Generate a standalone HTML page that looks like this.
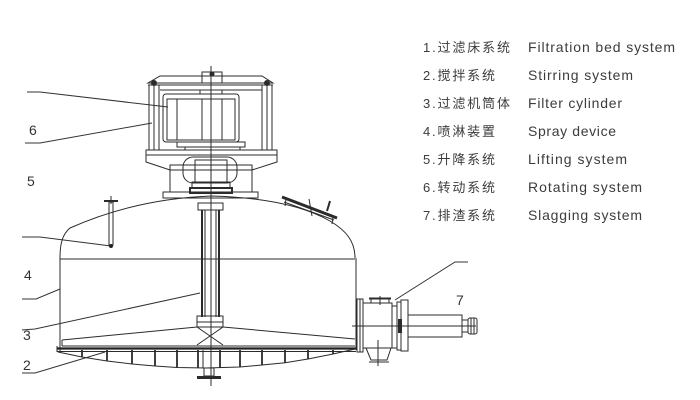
<!DOCTYPE html>
<html><head><meta charset="utf-8"><style>
html,body{margin:0;padding:0;background:#fff;}
svg{display:block;}
.l{fill:none;stroke:#2b2b2b;stroke-width:1;}
.t{stroke:#2b2b2b;stroke-width:2;fill:none;}
.lead{fill:none;stroke:#333;stroke-width:1;}
.num{font-family:"Liberation Sans",sans-serif;font-size:14px;fill:#333;}
.cn{font-family:"Liberation Sans","Noto Sans CJK SC",sans-serif;font-size:13px;fill:#3c3c3c;}
.en{font-family:"Liberation Sans",sans-serif;font-size:14px;fill:#3c3c3c;}
</style></head><body>
<svg width="700" height="400" viewBox="0 0 700 400" xmlns="http://www.w3.org/2000/svg">
<!-- legend -->
<text class="cn" x="423" y="52" textLength="87" lengthAdjust="spacing">1.过滤床系统</text>
<text class="cn" x="423" y="80" textLength="72" lengthAdjust="spacing">2.搅拌系统</text>
<text class="cn" x="423" y="108" textLength="87" lengthAdjust="spacing">3.过滤机筒体</text>
<text class="cn" x="423" y="136" textLength="72" lengthAdjust="spacing">4.喷淋装置</text>
<text class="cn" x="423" y="164" textLength="72" lengthAdjust="spacing">5.升降系统</text>
<text class="cn" x="423" y="192" textLength="72" lengthAdjust="spacing">6.转动系统</text>
<text class="cn" x="423" y="220" textLength="72" lengthAdjust="spacing">7.排渣系统</text>
<text class="en" x="528" y="52" textLength="147" lengthAdjust="spacing">Filtration bed system</text>
<text class="en" x="528" y="80" textLength="105" lengthAdjust="spacing">Stirring system</text>
<text class="en" x="528" y="108" textLength="94" lengthAdjust="spacing">Filter cylinder</text>
<text class="en" x="528" y="136" textLength="88" lengthAdjust="spacing">Spray device</text>
<text class="en" x="528" y="164" textLength="99" lengthAdjust="spacing">Lifting system</text>
<text class="en" x="528" y="192" textLength="114" lengthAdjust="spacing">Rotating system</text>
<text class="en" x="528" y="220" textLength="114" lengthAdjust="spacing">Slagging system</text>

<!-- left numbers -->
<text class="num" x="29" y="135">6</text>
<text class="num" x="27" y="186">5</text>
<text class="num" x="24" y="280">4</text>
<text class="num" x="23" y="340">3</text>
<text class="num" x="23" y="370">2</text>
<text class="num" x="456" y="305">7</text>

<!-- leaders -->
<polyline class="lead" points="27,92 40,92 168,107"/>
<polyline class="lead" points="25,143 40,143 152,123"/>
<polyline class="lead" points="22,237 40,237 111,246"/>
<polyline class="lead" points="22,299 36,299 60,289"/>
<polyline class="lead" points="22,330 35,329 200,293"/>
<polyline class="lead" points="22,373 35,373 105,352"/>
<polyline class="lead" points="468,262 455,262 395,300"/>

<!-- top drive -->
<polygon class="l" points="160,76 202,76 222,76 262,76 273,83 148,83"/>
<rect class="l" x="202" y="72" width="20" height="11"/>
<line class="l" x1="148" y1="85" x2="273" y2="85"/>
<line class="l" x1="160" y1="90" x2="262" y2="90"/>
<!-- posts -->
<rect class="l" x="149" y="85" width="10" height="65"/>
<line class="l" x1="154" y1="85" x2="154" y2="150"/>
<rect class="l" x="262" y="85" width="10" height="65"/>
<line class="l" x1="267" y1="85" x2="267" y2="150"/>
<circle cx="154" cy="83" r="3" fill="#2b2b2b"/>
<circle cx="267" cy="83" r="3" fill="#2b2b2b"/>
<circle cx="212" cy="74" r="2.5" fill="#2b2b2b"/>
<!-- motor -->
<rect class="l" x="163" y="94" width="76" height="48" rx="3"/>
<rect class="l" x="167" y="99" width="68" height="41"/>
<line class="l" x1="177" y1="99" x2="177" y2="140"/>
<line class="l" x1="202" y1="99" x2="202" y2="140"/>
<line class="l" x1="222" y1="99" x2="222" y2="140"/>
<rect class="l" x="200" y="90" width="22" height="4"/>
<rect class="l" x="177" y="142" width="68" height="5"/>
<rect class="l" x="185" y="147" width="55" height="3"/>
<!-- base -->
<polygon class="l" points="146,150 277,150 277,162 252,170 170,170 146,162"/>
<line class="l" x1="146" y1="155" x2="277" y2="155"/>
<rect class="l" x="170" y="165" width="82" height="27"/>
<rect class="l" x="163" y="192" width="95" height="6"/>
<rect class="l" x="183" y="157" width="54" height="26" rx="10"/>
<rect class="l" x="195" y="160" width="32" height="22"/>
<rect class="l" x="192" y="182" width="38" height="6"/>
<rect class="t" x="190" y="188" width="42" height="5"/>

<!-- tank dome -->
<path class="l" d="M60,258 C60,242 63,234 70,228 Q135,199 211,196 Q290,198 330,221 C347,231 355,242 355,258"/>
<line class="l" x1="60" y1="259" x2="355" y2="259"/>
<line class="l" x1="60" y1="258" x2="60" y2="352"/>
<line class="l" x1="356" y1="258" x2="356" y2="350"/>

<!-- spray pipe -->
<line class="t" x1="104" y1="201" x2="118" y2="201"/>
<line class="l" x1="111" y1="196" x2="111" y2="204"/>
<rect class="l" x="109" y="202" width="4" height="43"/>
<circle cx="111" cy="246" r="2" fill="#222"/>

<!-- hatch -->
<line x1="282" y1="197" x2="337" y2="218" stroke="#2b2b2b" stroke-width="3"/>
<line class="l" x1="284" y1="202" x2="334" y2="220"/>
<line class="l" x1="286" y1="199" x2="285" y2="206"/>
<line class="l" x1="333" y1="217" x2="332" y2="224"/>
<line class="l" x1="309" y1="199" x2="312" y2="216"/>
<line x1="327" y1="211" x2="330" y2="201" stroke="#2b2b2b" stroke-width="2"/>

<!-- shaft -->
<rect class="l" x="198" y="203" width="25" height="7"/>
<line x1="202" y1="210" x2="202" y2="317" stroke="#2b2b2b" stroke-width="2"/>
<line x1="219" y1="210" x2="219" y2="317" stroke="#2b2b2b" stroke-width="2"/>
<line class="l" x1="205" y1="210" x2="205" y2="317"/>
<line class="l" x1="216" y1="210" x2="216" y2="317"/>
<rect class="l" x="197" y="316" width="26" height="11"/>
<line class="l" x1="197" y1="322" x2="223" y2="322"/>
<line class="l" x1="197" y1="327" x2="223" y2="345"/>
<line class="l" x1="223" y1="327" x2="197" y2="345"/>
<!-- rake arms and plate -->
<line class="l" x1="197" y1="327" x2="62" y2="340"/>
<line class="l" x1="223" y1="327" x2="355" y2="339"/>
<line class="l" x1="62" y1="340" x2="62" y2="346"/>
<line class="l" x1="62" y1="346" x2="355" y2="346"/>
<line x1="57" y1="348.5" x2="356" y2="348.5" stroke="#222" stroke-width="2.2"/>
<line class="l" x1="57" y1="351.5" x2="356" y2="351.5"/>
<line class="l" x1="57" y1="346" x2="57" y2="352"/>
<!-- bottom cone -->
<polyline class="l" points="58,352 82,357 107,361 132,364 155,366 177,367.5 206,368 240,367 262,365 285,362.7 308,359 333,354 355,349"/>
<g stroke="#2b2b2b" stroke-width="1.8">
<line x1="82" y1="350" x2="82" y2="357"/>
<line x1="107" y1="350" x2="107" y2="361"/>
<line x1="132" y1="350" x2="132" y2="364"/>
<line x1="155" y1="350" x2="155" y2="366"/>
<line x1="177" y1="350" x2="177" y2="367.5"/>
<line x1="198" y1="350" x2="198" y2="368"/>
<line x1="220" y1="350" x2="220" y2="368"/>
<line x1="240" y1="350" x2="240" y2="367"/>
<line x1="262" y1="350" x2="262" y2="365"/>
<line x1="285" y1="350" x2="285" y2="362.7"/>
<line x1="308" y1="350" x2="308" y2="359"/>
<line x1="333" y1="350" x2="333" y2="354"/>
</g>
<line class="l" x1="203" y1="350" x2="203" y2="368"/>
<rect class="l" x="204" y="368" width="10" height="8"/>
<line x1="197" y1="377.5" x2="221" y2="377.5" stroke="#2b2b2b" stroke-width="3"/>
<!-- centerline -->
<line x1="211" y1="66" x2="211" y2="386" stroke="#2b2b2b" stroke-width="1"/>

<!-- discharge -->
<rect class="l" x="357" y="299" width="6" height="53"/>
<line class="l" x1="360" y1="299" x2="360" y2="352"/>
<rect class="l" x="363" y="303" width="29" height="45"/>
<line x1="369" y1="298.5" x2="391" y2="298.5" stroke="#2b2b2b" stroke-width="2"/>
<rect class="l" x="371" y="299" width="18" height="4"/>
<line class="l" x1="380" y1="296" x2="380" y2="305"/>
<polyline class="l" points="366,348 371,360 387,360 391,348"/>
<line class="l" x1="369" y1="362" x2="389" y2="362"/>
<line class="l" x1="378" y1="340" x2="378" y2="366"/>
<rect class="l" x="392" y="306" width="5" height="42"/>
<rect class="l" x="397" y="302" width="4" height="48"/>
<rect class="l" x="401" y="300" width="7" height="51"/>
<rect x="398" y="319" width="4" height="14" fill="#2b2b2b"/>
<rect class="l" x="408" y="315" width="54" height="22"/>
<rect class="l" x="462" y="320" width="6" height="12"/>
<rect class="l" x="468" y="318" width="9" height="16" rx="2"/>
<line class="l" x1="471" y1="318" x2="471" y2="334"/>
<line class="l" x1="474" y1="318" x2="474" y2="334"/>
<line class="l" x1="352" y1="326" x2="476" y2="326"/>
</svg>
</body></html>
